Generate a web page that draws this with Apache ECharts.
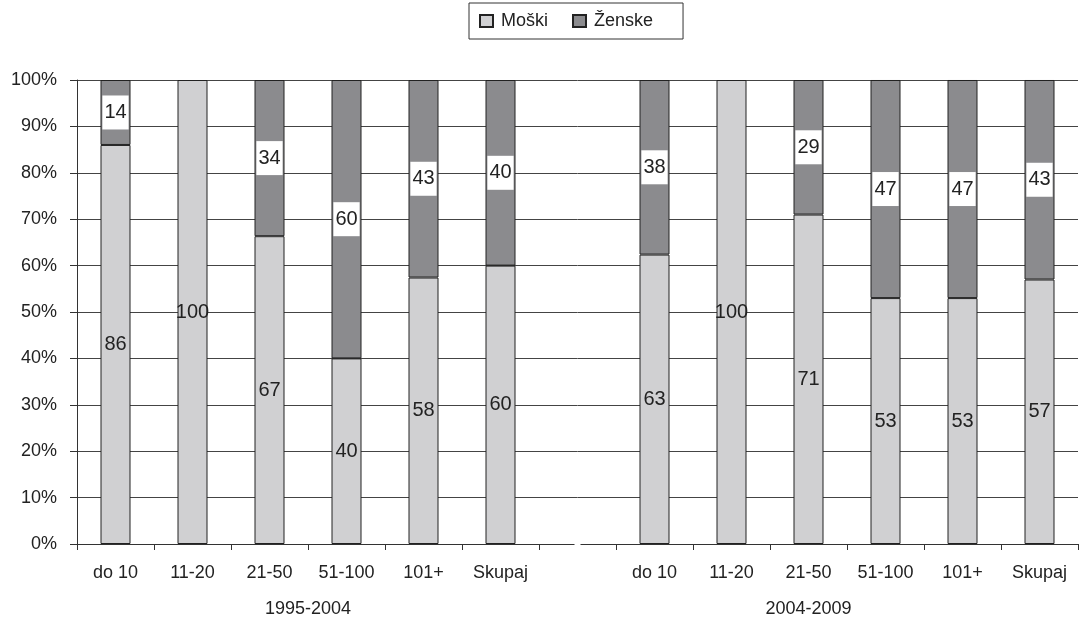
<!DOCTYPE html>
<html>
<head>
<meta charset="utf-8">
<script src="https://cdn.jsdelivr.net/npm/echarts@6/dist/echarts.min.js"></script>
<style>
  html, body { margin: 0; padding: 0; background: #fff; }
  #chart { width: 1081px; height: 621px; }
</style>
</head>
<body>
<div id="chart"></div>
<script>
// Share of men and women by firm size class, two periods
const periods = ['1995-2004', '2004-2009'];
const sizeClasses = ['do 10', '11-20', '21-50', '51-100', '101+', 'Skupaj'];
const moski1995 = [86, 100, 67, 40, 58, 60];
const zenske1995 = [14, 0, 34, 60, 43, 40];
const moski2004 = [63, 100, 71, 53, 53, 57];
const zenske2004 = [38, 0, 29, 47, 47, 43];
const yTicks = [0, 10, 20, 30, 40, 50, 60, 70, 80, 90, 100];

const FONT = 'Liberation Sans';
const TEXT = '#222';
const AXIS_FS = 18;
const BAR_FS = 20;

// Category axis: first period, one empty slot, second period
const categories = [...sizeClasses, '', ...sizeClasses];
const moskiRaw = [...moski1995, null, ...moski2004];
const zenskeRaw = [...zenske1995, null, ...zenske2004];

// Each bar is stacked to 100 %; the label keeps the stated value
function shares(raw, other) {
  return raw.map((v, i) => {
    if (v == null || v === 0) return null;
    const total = v + (other[i] || 0);
    return { value: v / total * 100, raw: v };
  });
}
const moskiData = shares(moskiRaw, zenskeRaw);
const zenskeData = shares(zenskeRaw, moskiRaw);

const chart = echarts.init(document.getElementById('chart'));
chart.setOption({
  animation: false,
  textStyle: { fontFamily: FONT, color: TEXT },
  legend: {
    left: 469,
    top: 3,
    padding: [9, 30, 9, 10],
    borderColor: '#333',
    borderWidth: 1,
    icon: 'rect',
    itemWidth: 13,
    itemHeight: 12,
    itemGap: 24,
    textStyle: { fontFamily: FONT, fontSize: AXIS_FS, color: TEXT, padding: [0, 0, 0, 3] },
    data: ['Moški', 'Ženske']
  },
  grid: { left: 77, right: 2, top: 80, bottom: 77, containLabel: false },
  xAxis: [
    {
      type: 'category',
      data: categories,
      boundaryGap: true,
      axisLine: { show: true, lineStyle: { color: '#333', width: 1 } },
      axisTick: { show: true, interval: 0, length: 6, lineStyle: { color: '#333' } },
      axisLabel: { interval: 0, margin: 20, fontFamily: FONT, fontSize: AXIS_FS, color: TEXT }
    },
    {
      // Period captions centred under each group of size classes
      type: 'value',
      position: 'bottom',
      min: 0,
      max: 13,
      interval: 0.5,
      gridIndex: 0,
      offset: 0,
      axisLine: { show: false },
      axisTick: { show: false },
      splitLine: { show: false },
      axisLabel: {
        margin: 56,
        fontFamily: FONT,
        fontSize: AXIS_FS,
        color: TEXT,
        showMinLabel: true,
        showMaxLabel: true,
        hideOverlap: false,
        formatter: v => v === 3 ? periods[0] : (v === 9.5 ? periods[1] : '')
      }
    }
  ],
  yAxis: {
    type: 'value',
    min: 0,
    max: 100,
    interval: 10,
    axisLine: { show: true, lineStyle: { color: '#333', width: 1 } },
    axisTick: { show: true, length: 7, lineStyle: { color: '#333' } },
    axisLabel: {
      margin: 20,
      fontFamily: FONT,
      fontSize: AXIS_FS,
      color: TEXT,
      formatter: v => yTicks.includes(v) ? v + '%' : ''
    },
    splitLine: { show: true, lineStyle: { color: '#444', width: 1 } }
  },
  series: [
    {
      name: 'Moški',
      type: 'bar',
      stack: 'total',
      barWidth: 30,
      data: moskiData,
      itemStyle: { color: '#d0d0d2', borderColor: '#222', borderWidth: 1 },
      label: {
        show: true,
        position: 'inside',
        fontFamily: FONT,
        fontSize: BAR_FS,
        color: TEXT,
        formatter: p => p.data && p.data.raw != null ? String(p.data.raw) : ''
      }
    },
    {
      name: 'Ženske',
      type: 'bar',
      stack: 'total',
      barWidth: 30,
      data: zenskeData,
      itemStyle: { color: '#8b8b8e', borderColor: '#222', borderWidth: 1 },
      label: {
        show: true,
        position: 'inside',
        fontFamily: FONT,
        fontSize: BAR_FS,
        color: TEXT,
        backgroundColor: '#fff',
        padding: [7, 2, 7, 2],
        formatter: p => p.data && p.data.raw != null ? String(p.data.raw) : ''
      }
    }
  ]
});

// Break the category axis line in the middle of the empty slot between periods
const gapIdx = sizeClasses.length;
const gapX = chart.convertToPixel({ xAxisIndex: 0 }, gapIdx);
const baseY = chart.convertToPixel({ yAxisIndex: 0 }, 0);
chart.setOption({
  graphic: [{
    type: 'rect',
    shape: { x: gapX - 3, y: baseY - 1.5, width: 6, height: 3 },
    style: { fill: '#fff' },
    z: 100
  }]
});
</script>
</body>
</html>
